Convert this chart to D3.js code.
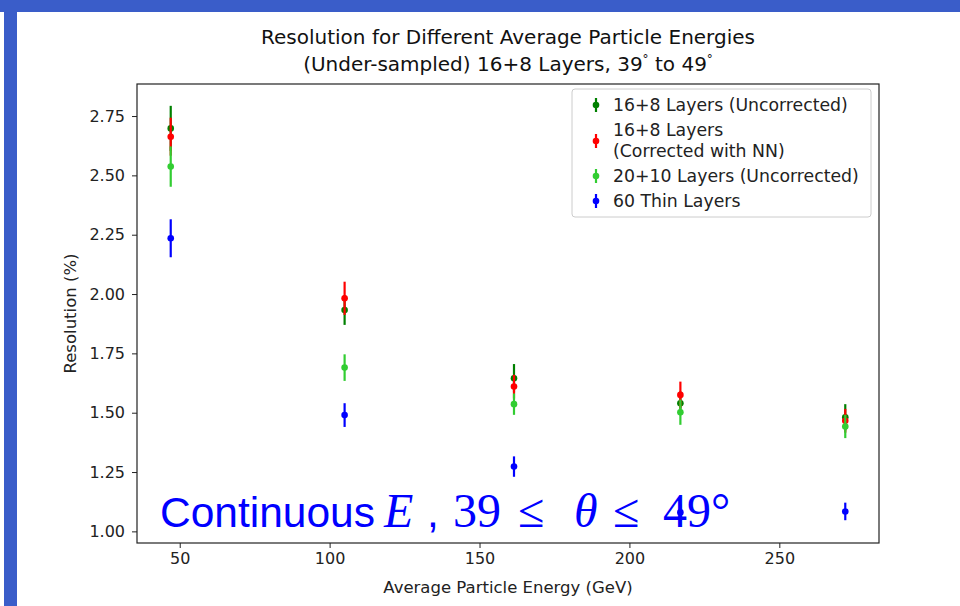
<!DOCTYPE html>
<html>
<head>
<meta charset="utf-8">
<script src="https://cdn.jsdelivr.net/npm/d3@7"></script>
<style>
  html, body { margin: 0; padding: 0; background: #fff; }
  svg { display: block; }
  text { font-family: "DejaVu Sans", sans-serif; }
</style>
</head>
<body>
<svg id="chart" width="960" height="606"></svg>
<script>
// Average particle energy (GeV) for each run
const energies = [47, 105, 161.5, 217, 272];

// Resolution (%) and its uncertainty for each configuration
const uncorr16 = [2.698, 1.933, 1.645, 1.540, 1.481];
const uncorr16Err = [0.095, 0.063, 0.060, 0.050, 0.055];

const corrNN = [2.663, 1.982, 1.610, 1.575, 1.466];
const corrNNErr = [0.080, 0.070, 0.050, 0.056, 0.050];

const uncorr20 = [2.537, 1.690, 1.536, 1.502, 1.442];
const uncorr20Err = [0.085, 0.056, 0.045, 0.053, 0.049];

const thin60 = [2.235, 1.490, 1.273, 1.080, 1.084];
const thin60Err = [0.080, 0.050, 0.043, 0.035, 0.037];

const seriesNames = [["16+8 Layers (Uncorrected)"], ["16+8 Layers", "(Corrected with NN)"], ["20+10 Layers (Uncorrected)"], ["60 Thin Layers"]];
const seriesColors = ["#008000", "#ff0000", "#32cd32", "#0000ff"];
const seriesValues = [uncorr16, corrNN, uncorr20, thin60];
const seriesErrors = [uncorr16Err, corrNNErr, uncorr20Err, thin60Err];

const xTicks = [50, 100, 150, 200, 250];
const yTicks = [1.00, 1.25, 1.50, 1.75, 2.00, 2.25, 2.50, 2.75];

const svg = d3.select("#chart");
const W = 960, H = 606;
const plot = { left: 137, right: 879, top: 84, bottom: 543 };

// slide frame
svg.append("rect").attr("x", 0).attr("y", 0).attr("width", W).attr("height", 12).attr("fill", "#3a5dc9");
svg.append("rect").attr("x", 4).attr("y", 0).attr("width", 13).attr("height", H).attr("fill", "#3a5dc9");

const x = d3.scaleLinear().domain([35.75, 283.25]).range([plot.left, plot.right]);
const y = d3.scaleLinear().domain([0.951, 2.885]).range([plot.bottom, plot.top]);

// title
const cx = (plot.left + plot.right) / 2;
const title = svg.append("text").attr("x", cx).attr("text-anchor", "middle")
  .attr("font-size", 20).attr("fill", "#111");
title.append("tspan").attr("x", cx).attr("y", 44).text("Resolution for Different Average Particle Energies");
const t2 = title.append("tspan").attr("x", cx).attr("y", 71);
t2.append("tspan").text("(Under-sampled) 16+8 Layers, 39");
t2.append("tspan").attr("font-size", 12).attr("dy", -8).text("°");
t2.append("tspan").attr("dy", 8).text(" to 49");
t2.append("tspan").attr("font-size", 12).attr("dy", -8).text("°");

// axes
const xAxis = d3.axisBottom(x).tickValues(xTicks).tickFormat(d3.format("d")).tickSize(5).tickPadding(5);
const yAxis = d3.axisLeft(y).tickValues(yTicks).tickFormat(d3.format(".2f")).tickSize(5).tickPadding(7);

const gx = svg.append("g").attr("transform", `translate(0,${plot.bottom})`).call(xAxis);
const gy = svg.append("g").attr("transform", `translate(${plot.left},0)`).call(yAxis);
[gx, gy].forEach(g => {
  g.select(".domain").remove();
  g.selectAll(".tick line").attr("stroke", "#222").attr("stroke-width", 1);
  g.selectAll(".tick text").style("font-size", "16px").attr("fill", "#222");
});

// frame of the axes
svg.append("rect").attr("x", plot.left).attr("y", plot.top)
  .attr("width", plot.right - plot.left).attr("height", plot.bottom - plot.top)
  .attr("fill", "none").attr("stroke", "#222").attr("stroke-width", 1.2);

// axis labels
svg.append("text").attr("x", cx).attr("y", 593).attr("text-anchor", "middle")
  .attr("font-size", 16.5).attr("fill", "#222").text("Average Particle Energy (GeV)");
svg.append("text").attr("transform", `translate(76,${(plot.top + plot.bottom) / 2}) rotate(-90)`)
  .attr("text-anchor", "middle").attr("font-size", 16.5).attr("fill", "#222").text("Resolution (%)");

// error bars with markers
const marks = svg.append("g");
seriesValues.forEach((vals, s) => {
  const g = marks.append("g");
  const pts = energies.map((e, i) => ({ e, v: vals[i], err: seriesErrors[s][i] }));
  g.selectAll("line").data(pts).join("line")
    .attr("x1", d => x(d.e)).attr("x2", d => x(d.e))
    .attr("y1", d => y(d.v - d.err)).attr("y2", d => y(d.v + d.err))
    .attr("stroke", seriesColors[s]).attr("stroke-width", 2.2);
  g.selectAll("circle").data(pts).join("circle")
    .attr("cx", d => x(d.e)).attr("cy", d => y(d.v)).attr("r", 3.3)
    .attr("fill", seriesColors[s]);
});

// legend
const lg = svg.append("g");
lg.append("rect").attr("x", 572).attr("y", 89).attr("width", 299).attr("height", 128).attr("rx", 3)
  .attr("fill", "#fff").attr("fill-opacity", 0.8).attr("stroke", "#ccc").attr("stroke-width", 1);
const rows = [{ ym: 105, lines: [105] }, { ym: 141, lines: [130, 151] }, { ym: 176, lines: [176] }, { ym: 201, lines: [201] }];
rows.forEach((r, s) => {
  lg.append("line").attr("x1", 596).attr("x2", 596).attr("y1", r.ym - 7).attr("y2", r.ym + 7)
    .attr("stroke", seriesColors[s]).attr("stroke-width", 2.2);
  lg.append("circle").attr("cx", 596).attr("cy", r.ym).attr("r", 3.3).attr("fill", seriesColors[s]);
  seriesNames[s].forEach((line, k) => {
    lg.append("text").attr("x", 613).attr("y", r.lines[k] + 6).attr("font-size", 17.3).attr("fill", "#222").text(line);
  });
});

// annotation in the lower part of the plot
const serif = "'Liberation Serif', serif";
const ann = svg.append("text").attr("y", 527).attr("fill", "#0000ff")
  .style("font-family", "'Liberation Sans', Arial, sans-serif").style("font-size", "42.5px");
ann.append("tspan").attr("x", 160).text("Continuous");
ann.append("tspan").attr("x", 384).style("font-family", serif).style("font-style", "italic").style("font-size", "48px").text("E");
ann.append("tspan").attr("x", 427).text(",");
ann.append("tspan").attr("x", 453).style("font-family", serif).style("font-size", "48px").text("39");
ann.append("tspan").attr("x", 518).style("font-family", serif).style("font-size", "48px").text("\u2264");
ann.append("tspan").attr("x", 574).style("font-family", serif).style("font-style", "italic").style("font-size", "48px").text("\u03B8");
ann.append("tspan").attr("x", 613).style("font-family", serif).style("font-size", "48px").text("\u2264");
ann.append("tspan").attr("x", 663).style("font-family", serif).style("font-size", "48px").text("49\u00B0");
</script>
</body>
</html>
